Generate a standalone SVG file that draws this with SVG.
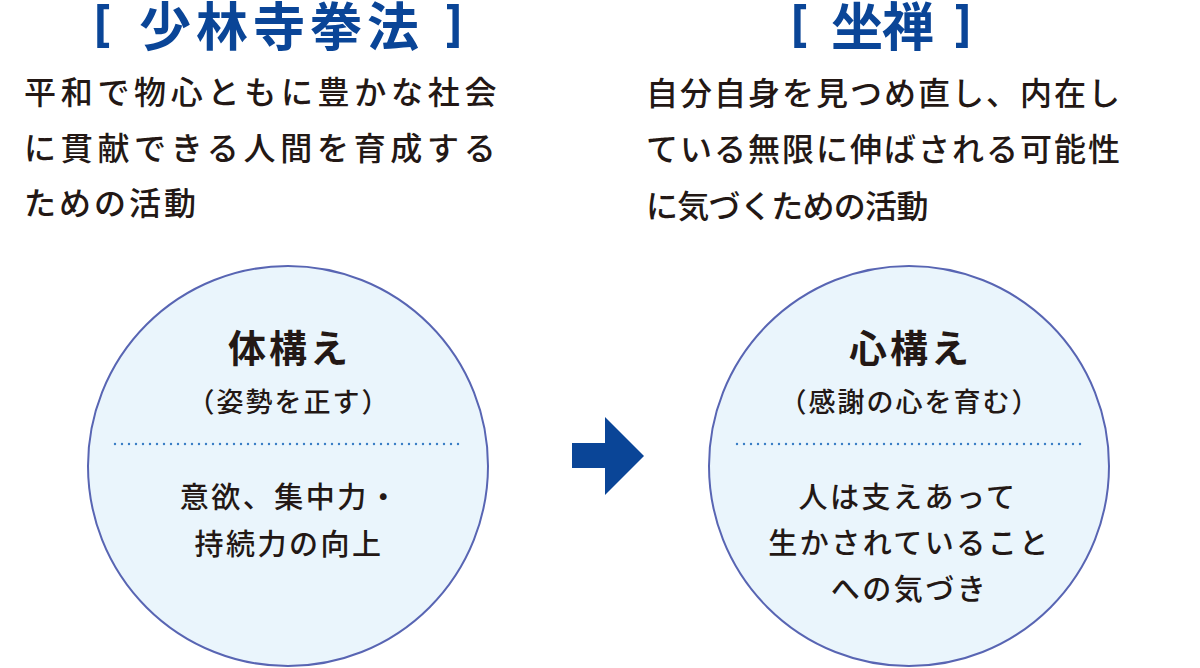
<svg xmlns="http://www.w3.org/2000/svg" width="1200" height="668" viewBox="0 0 1200 668">
  <style>
    .ttl { font-family: "Noto Sans CJK JP", "Noto Sans", sans-serif; font-weight: 700; font-size: 52px; fill: #0a4597; }
    .brk { font-family: "Noto Sans", "DejaVu Sans", sans-serif; font-weight: 700; font-size: 50px; fill: #0a4597; text-anchor: middle; }
    .para { font-family: "Noto Sans CJK JP", sans-serif; font-weight: 500; font-size: 32px; fill: #231815; }
    .head { font-family: "Noto Sans CJK JP", sans-serif; font-weight: 700; font-size: 38px; fill: #231815; text-anchor: middle; letter-spacing: 3px; }
    .sub { font-family: "Noto Sans CJK JP", sans-serif; font-weight: 500; font-size: 27px; fill: #231815; text-anchor: middle; letter-spacing: 2px; }
    .body { font-family: "Noto Sans CJK JP", sans-serif; font-weight: 500; font-size: 29px; fill: #231815; text-anchor: middle; letter-spacing: 2.5px; }
    .circ { fill: #eaf5fc; stroke: #5865b3; stroke-width: 2; }
    .dots { stroke: #3b7fc6; stroke-width: 2.4; stroke-linecap: round; stroke-dasharray: 0 7; fill: none; }
    .arrow { fill: #0a4597; }
  </style>

  <g id="shorinji-title">
    <text class="brk" x="102" y="40">[</text>
    <text class="ttl" x="139 196 253 310 367" y="46">少林寺拳法</text>
    <text class="brk" x="454" y="40">]</text>
  </g>
  <g id="shorinji-desc">
    <text class="para" x="24" y="104" letter-spacing="4.7">平和で物心ともに豊かな社会</text>
    <text class="para" x="24" y="160" letter-spacing="4.7">に貫献できる人間を育成する</text>
    <text class="para" x="24" y="215" letter-spacing="3">ための活動</text>
  </g>

  <g id="zazen-title">
    <text class="brk" x="799" y="40">[</text>
    <text class="ttl" x="831 882" y="46">坐禅</text>
    <text class="brk" x="963" y="40">]</text>
  </g>
  <g id="zazen-desc">
    <text class="para" x="646" y="105" letter-spacing="2">自分自身を見つめ直し、内在し</text>
    <text class="para" x="646" y="161" letter-spacing="2">ている無限に伸ばされる可能性</text>
    <text class="para" x="646" y="218" letter-spacing="-0.7">に気づくための活動</text>
  </g>

  <g id="node-karada">
    <circle class="circ" cx="288" cy="466" r="200"/>
    <text class="head" x="289.5" y="362">体構え</text>
    <text class="sub" x="289" y="412">（姿勢を正す）</text>
    <line class="dots" x1="115" y1="444" x2="462" y2="444"/>
    <text class="body" x="290" y="508">意欲、集中力・</text>
    <text class="body" x="289" y="555">持続力の向上</text>
  </g>

  <g id="node-kokoro">
    <circle class="circ" cx="909" cy="466" r="200"/>
    <text class="head" x="910.5" y="362">心構え</text>
    <text class="sub" x="910" y="412">（感謝の心を育む）</text>
    <line class="dots" x1="737" y1="444" x2="1083" y2="444"/>
    <text class="body" x="908" y="508">人は支えあって</text>
    <text class="body" x="909.5" y="554">生かされていること</text>
    <text class="body" x="909.5" y="600">への気づき</text>
  </g>

  <g id="connectors">
    <polygon class="arrow" points="572,443 605,443 605,417 644,456 605,495 605,468 572,468"/>
  </g>
</svg>
